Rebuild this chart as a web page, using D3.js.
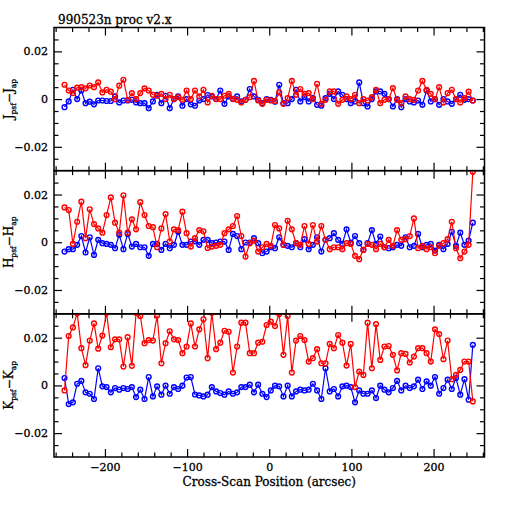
<!DOCTYPE html>
<html lang="en">
<head>
<meta charset="UTF-8">
<title>990523n proc v2.x</title>
<script src="https://d3js.org/d3.v7.min.js"></script>
<style>
    body { margin: 0; background: #fff; }
    text { font-family: "DejaVu Serif", serif; font-size: 11px; fill: #000; stroke: #000; stroke-width: 0.3px; }
    .big { font-size: 12px; }
</style>
</head>
<body>
<div id="chart"></div>
<script>
// cross-scan positions (arcsec)
var xPos = [-249.2, -244.1, -239.0, -233.8, -228.7, -223.6, -218.5, -213.3, -208.2, -203.1,
    -198.0, -192.8, -187.7, -182.6, -177.5, -172.3, -167.2, -162.1, -157.0, -151.8,
    -146.7, -141.6, -136.5, -131.3, -126.2, -121.1, -116.0, -110.9, -105.7, -100.6,
    -95.5, -90.4, -85.2, -80.1, -75.0, -69.9, -64.7, -59.6, -54.5, -49.4,
    -44.2, -39.1, -34.0, -28.9, -23.7, -18.6, -13.5, -8.4, -3.2, 1.9,
    7.0, 12.1, 17.3, 22.4, 27.5, 32.6, 37.8, 42.9, 48.0, 53.1,
    58.2, 63.4, 68.5, 73.6, 78.7, 83.9, 89.0, 94.1, 99.2, 104.4,
    109.5, 114.6, 119.7, 124.9, 130.0, 135.1, 140.2, 145.4, 150.5, 155.6,
    160.7, 165.9, 171.0, 176.1, 181.2, 186.4, 191.5, 196.6, 201.7, 206.8,
    212.0, 217.1, 222.2, 227.3, 232.5, 237.6, 242.7, 247.8];

// J band
var jRed = [0.0060, 0.0036, 0.0025, 0.0048, 0.0050, 0.0045, 0.0057, 0.0050, 0.0070, 0.0028,
    0.0039, 0.0031, 0.0000, 0.0056, 0.0081, -0.0003, 0.0025, 0.0000, 0.0025, 0.0045,
    0.0036, 0.0018, 0.0014, 0.0022, 0.0000, 0.0018, 0.0000, 0.0008, -0.0003, 0.0036,
    0.0000, 0.0036, 0.0011, 0.0039, -0.0014, 0.0014, 0.0000, 0.0000, 0.0014, 0.0022,
    0.0001, -0.0003, -0.0014, -0.0003, 0.0008,
    0.0076, -0.0006, -0.0020, -0.0003, -0.0006, -0.0008, 0.0028, -0.0020, 0.0004, 0.0076,
    0.0018, 0.0042, 0.0022, 0.0025, 0.0000, 0.0064, -0.0020, -0.0003, 0.0032, 0.0032,
    -0.0020, -0.0003, 0.0011, 0.0000, 0.0018, -0.0017, 0.0000, -0.0006, 0.0008, 0.0039,
    -0.0017, -0.0003, 0.0000, 0.0046, -0.0003, -0.0017, 0.0011, 0.0000, -0.0003, 0.0036,
    0.0076, 0.0039, 0.0022, 0.0000, 0.0050, -0.0014, 0.0025, 0.0039, 0.0000, -0.0014,
    0.0004, 0.0031, -0.0006];
var jBlue = [-0.0034, -0.0010, 0.0039, 0.0000, 0.0036, -0.0017, -0.0011, -0.0022, -0.0006, -0.0006,
    -0.0008, -0.0008, 0.0011, -0.0014, -0.0006, -0.0006, -0.0003, -0.0014, -0.0017, -0.0017,
    -0.0038, -0.0010, 0.0018, -0.0017, 0.0014, -0.0038, 0.0000, 0.0011, -0.0028, 0.0000,
    -0.0022, -0.0028, -0.0006, 0.0000, 0.0017, 0.0011, 0.0000, 0.0036, -0.0020, 0.0011,
    0.0000, 0.0011, -0.0010, -0.0003, 0.0042,
    0.0011, -0.0003, -0.0017, 0.0000, -0.0003, -0.0011, 0.0060, -0.0017, -0.0017, 0.0000,
    0.0039, -0.0010, 0.0008, -0.0010, 0.0004, -0.0024, -0.0028, 0.0004, 0.0022, 0.0000,
    0.0032, 0.0018, 0.0000, -0.0017, -0.0010, 0.0070, -0.0017, -0.0031, 0.0000, 0.0032,
    0.0032, 0.0022, 0.0000, -0.0031, 0.0000, -0.0034, 0.0000, -0.0010, -0.0014, -0.0006,
    -0.0024, 0.0036, -0.0010, 0.0000, -0.0024, 0.0000, -0.0010, -0.0020, 0.0000, 0.0018,
    -0.0003, 0.0000, -0.0006];

// H band
var hRed = [0.0146, 0.0135, -0.0007, 0.0086, 0.0170, 0.0017, 0.0138, 0.0076, 0.0058, 0.0040,
    0.0114, 0.0188, 0.0082, 0.0040, 0.0197, 0.0040, 0.0096, 0.0054, 0.0168, 0.0114,
    0.0068, 0.0063, -0.0021, 0.0058, 0.0118, 0.0003, 0.0054, 0.0051, 0.0128, 0.0038,
    -0.0018, 0.0017, 0.0051, 0.0046, -0.0024, -0.0018, -0.0015, -0.0011, 0.0038, 0.0054,
    0.0068, 0.0110, 0.0026, -0.0060, -0.0004,
    0.0007, -0.0039, -0.0021, -0.0007, -0.0015, 0.0072, 0.0058, -0.0011, 0.0090, 0.0054,
    -0.0004, -0.0011, 0.0068, -0.0007, 0.0072, 0.0003, 0.0068, 0.0010, -0.0029, -0.0021,
    -0.0021, -0.0029, -0.0004, -0.0007, -0.0057, -0.0071, -0.0032, -0.0007, -0.0011, -0.0029,
    -0.0007, -0.0021, 0.0010, -0.0015, 0.0051, 0.0010, 0.0013, 0.0026, 0.0100, -0.0025,
    -0.0015, -0.0029, -0.0021, -0.0046, -0.0015, -0.0004, 0.0013, 0.0086, -0.0025, -0.0067,
    -0.0039, -0.0011, 0.0295];
var hBlue = [-0.0039, -0.0029, -0.0029, -0.0011, 0.0026, -0.0043, 0.0021, -0.0053, 0.0010, -0.0004,
    -0.0007, -0.0011, -0.0025, 0.0031, -0.0029, 0.0035, -0.0018, -0.0007, -0.0021, -0.0021,
    -0.0057, -0.0007, -0.0007, -0.0032, -0.0007, -0.0025, -0.0011, 0.0044, -0.0011, -0.0011,
    0.0003, 0.0004, -0.0011, 0.0010, 0.0010, -0.0004, -0.0001, 0.0003, 0.0003, -0.0032,
    0.0035, 0.0026, -0.0029, -0.0001, -0.0001,
    0.0017, -0.0004, -0.0046, -0.0039, -0.0021, -0.0025, 0.0021, -0.0011, -0.0015, -0.0021,
    -0.0004, -0.0021, 0.0013, -0.0029, -0.0011, 0.0021, -0.0039, 0.0010, 0.0017, 0.0038,
    0.0010, -0.0007, 0.0054, -0.0001, 0.0026, -0.0004, -0.0032, -0.0004, 0.0051, -0.0007,
    0.0024, -0.0021, -0.0025, -0.0021, -0.0011, -0.0015, 0.0021, -0.0021, -0.0015, 0.0035,
    -0.0021, -0.0011, -0.0007, -0.0035, -0.0011, -0.0029, -0.0007, 0.0044, -0.0015, 0.0040,
    -0.0011, 0.0007, 0.0082];

// K band
var kRed = [-0.0021, 0.0207, 0.0243, 0.0302, 0.0156, 0.0085, 0.0188, 0.0260, 0.0154, 0.0209,
    0.0304, 0.0160, 0.0193, 0.0193, 0.0079, 0.0202, 0.0082, 0.0304, 0.0291, 0.0177,
    0.0190, 0.0188, 0.0293, 0.0093, 0.0177, 0.0227, 0.0193, 0.0190, 0.0135, 0.0163,
    0.0260, 0.0163, 0.0235, 0.0277, 0.0114, 0.0304, 0.0152, 0.0179, 0.0229, 0.0225,
    0.0054, 0.0163, 0.0263, 0.0263, 0.0135,
    0.0135, 0.0179, 0.0183, 0.0253, 0.0267, 0.0249, 0.0299, 0.0128, 0.0291, 0.0054,
    0.0188, 0.0207, 0.0190, 0.0100, 0.0114, 0.0152, 0.0093, 0.0093, 0.0174, 0.0156,
    0.0211, 0.0179, 0.0083, 0.0174, -0.0007, 0.0058, 0.0044, 0.0263, 0.0072, 0.0257,
    0.0107, 0.0163, 0.0165, 0.0128, 0.0063, 0.0135, 0.0132, 0.0096, 0.0121, 0.0156,
    0.0156, 0.0135, 0.0100, 0.0235, 0.0215, 0.0110, 0.0188, 0.0026, 0.0044, 0.0065,
    0.0100, 0.0100, -0.0067];
var kBlue = [0.0031, -0.0078, -0.0071, 0.0007, 0.0019, -0.0029, -0.0035, -0.0057, 0.0072, -0.0004,
    -0.0007, -0.0029, -0.0011, -0.0018, -0.0011, -0.0015, -0.0007, -0.0049, -0.0018, -0.0057,
    0.0035, -0.0046, -0.0004, -0.0039, -0.0001, -0.0035, -0.0007, -0.0015, -0.0001, 0.0033,
    0.0035, -0.0038, -0.0042, -0.0046, -0.0039, -0.0007, -0.0025, -0.0032, -0.0039, -0.0025,
    -0.0035, -0.0029, -0.0007, -0.0007, 0.0003,
    -0.0029, 0.0003, -0.0035, -0.0049, -0.0021, -0.0001, -0.0004, -0.0046, -0.0001, -0.0046,
    -0.0025, -0.0018, -0.0021, -0.0018, 0.0007, -0.0021, -0.0057, 0.0072, -0.0025, -0.0015,
    -0.0046, -0.0004, -0.0001, -0.0007, -0.0071, -0.0021, -0.0035, -0.0035, -0.0021, -0.0053,
    -0.0001, -0.0018, -0.0029, -0.0011, 0.0019, -0.0021, -0.0001, -0.0011, -0.0004, 0.0024,
    -0.0015, 0.0017, -0.0001, 0.0035, -0.0035, -0.0011, 0.0024, -0.0015, 0.0031, -0.0039,
    0.0026, -0.0060, 0.0170];

var bands = ["J", "H", "K"];
var xMajor = [-200, -100, 0, 100, 200];
var xMinor = [-260, -240, -220, -180, -160, -140, -120, -80, -60, -40, -20, 20, 40, 60, 80, 120, 140, 160, 180, 220, 240, 260];
var yMajor = [-0.02, 0, 0.02];
var yMinor = [-0.025, -0.015, -0.01, -0.005, 0.005, 0.01, 0.015, 0.025];

var width = 512, height = 512;
var plotLeft = 54, plotRight = 484.5, plotTop = 27.5, plotBottom = 457;
var panelH = (plotBottom - plotTop) / 3;

var svg = d3.select("#chart").append("svg")
    .attr("width", width)
    .attr("height", height);

var x = d3.scaleLinear().domain([-262, 262]).range([plotLeft, plotRight]);

var panels = [
    { band: bands[0], red: jRed, blue: jBlue },
    { band: bands[1], red: hRed, blue: hBlue },
    { band: bands[2], red: kRed, blue: kBlue }
];

panels.forEach(function (p, i) {
    var y0 = plotTop + i * panelH, y1 = y0 + panelH;
    var y = d3.scaleLinear().domain([-0.03, 0.03]).range([y1, y0]);
    var g = svg.append("g");

    svg.append("clipPath").attr("id", "clip" + i)
        .append("rect")
        .attr("x", plotLeft).attr("y", y0)
        .attr("width", plotRight - plotLeft).attr("height", panelH);

    // ticks (inward, all four sides)
    function addAxis(axis, tx, ty, vals, len, labels) {
        var a = g.append("g")
            .attr("transform", "translate(" + tx + "," + ty + ")")
            .call(axis.tickValues(vals).tickSize(-len).tickPadding(labels ? 6 : 0)
                .tickFormat(labels ? labels : function () { return ""; }));
        a.select(".domain").remove();
        a.selectAll("line").attr("stroke", "#000").attr("stroke-width", 1.2);
        a.attr("font-family", null).attr("font-size", null);
        return a;
    }
    var fmtY = function (d) { return d === 0 ? "0" : d3.format(".2f")(d); };
    addAxis(d3.axisLeft(y), plotLeft, 0, yMajor, 8, fmtY);
    addAxis(d3.axisLeft(y), plotLeft, 0, yMinor, 4.5);
    addAxis(d3.axisRight(y), plotRight, 0, yMajor, 8);
    addAxis(d3.axisRight(y), plotRight, 0, yMinor, 4.5);
    addAxis(d3.axisTop(x), 0, y0, xMajor, 8);
    addAxis(d3.axisTop(x), 0, y0, xMinor, 4.5);
    var bx = addAxis(d3.axisBottom(x), 0, y1, xMajor, 8, i === 2 ? function (d) { return d3.format("d")(d); } : null);
    if (i === 2) bx.selectAll("text").attr("dy", null).attr("y", 14);
    addAxis(d3.axisBottom(x), 0, y1, xMinor, 4.5);

    // series: blue then red
    var line = d3.line()
        .x(function (d) { return x(d[0]); })
        .y(function (d) { return y(d[1]); });
    var plot = g.append("g").attr("clip-path", "url(#clip" + i + ")");
    [["blue", p.blue, "#0000ff"], ["red", p.red, "#ff0000"]].forEach(function (s) {
        var pts = xPos.map(function (xv, k) { return [xv, s[1][k]]; });
        plot.append("path")
            .datum(pts)
            .attr("d", line)
            .attr("fill", "none")
            .attr("stroke", s[2])
            .attr("stroke-width", 1.2);
        plot.append("g").selectAll("circle")
            .data(pts)
            .join("circle")
            .attr("cx", function (d) { return x(d[0]); })
            .attr("cy", function (d) { return y(d[1]); })
            .attr("r", 2.4)
            .attr("fill", "none")
            .attr("stroke", s[2])
            .attr("stroke-width", 1.4);
    });

    // frame
    g.append("rect")
        .attr("x", plotLeft).attr("y", y0)
        .attr("width", plotRight - plotLeft).attr("height", panelH)
        .attr("fill", "none")
        .attr("stroke", "#000")
        .attr("stroke-width", 1.5);

    // y label  e.g. J_psf - J_ap
    var lab = svg.append("text")
        .attr("class", "big")
        .attr("transform", "translate(13," + (y0 + panelH / 2) + ") rotate(-90)")
        .attr("text-anchor", "middle");
    lab.append("tspan").text(p.band);
    lab.append("tspan").attr("dy", 2.5).style("font-size", "7.5px").text("psf");
    lab.append("tspan").attr("dy", -2.5).text("\u2212" + p.band);
    lab.append("tspan").attr("dy", 2.5).style("font-size", "7.5px").text("ap");
});

// title
svg.append("text")
    .attr("class", "big")
    .attr("x", 58).attr("y", 24)
    .text("990523n proc v2.x");

// x axis title
svg.append("text")
    .attr("class", "big")
    .attr("x", (plotLeft + plotRight) / 2).attr("y", 486)
    .attr("text-anchor", "middle")
    .text("Cross-Scan Position (arcsec)");
</script>
</body>
</html>
